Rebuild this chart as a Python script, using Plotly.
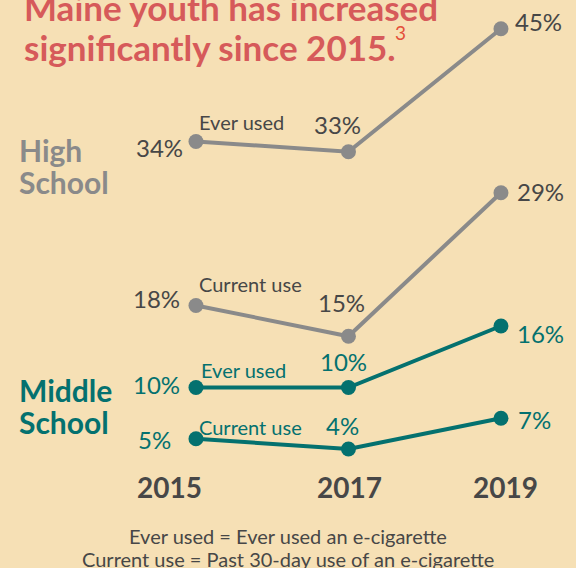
import plotly.graph_objects as go

years = [2015, 2017, 2019]
hs_ever = [34, 33, 45]
hs_current = [18, 15, 29]
ms_ever = [10, 10, 16]
ms_current = [5, 4, 7]
year_labels = ["2015", "2017", "2019"]

BG = "#F6E0B5"
GRAY = "#8A8A8A"
TEAL = "#04716F"
DARK = "#474747"
RED = "#D65A5A"
FONT = "Lato"
W, H = 576, 568

fig = go.Figure()

series = [
    (hs_ever, GRAY, DARK),
    (hs_current, GRAY, DARK),
    (ms_ever, TEAL, TEAL),
    (ms_current, TEAL, TEAL),
]
for vals, col, _ in series:
    fig.add_trace(go.Scatter(
        x=years, y=vals, mode="lines+markers",
        line=dict(color=col, width=4),
        marker=dict(color=col, size=15),
        hoverinfo="skip", showlegend=False,
    ))

# label placement: (xanchor, xshift, yshift) per point
label_pos = [
    [("right", -11, -6), ("center", -11, 27), ("left", 12, 7)],
    [("right", -14, 7), ("center", -7, 34), ("left", 14, 1)],
    [("right", -14, 3), ("center", -5, 26), ("left", 14, -8)],
    [("right", -23, -1), ("center", -6, 23), ("left", 15, -1)],
]
series_names = ["Ever used", "Current use", "Ever used", "Current use"]
name_shift = [(1, 19), (1, 21), (3, 17), (1, 12)]

for (vals, col, tcol), pos, nm, ns in zip(series, label_pos, series_names, name_shift):
    for yr, v, (xa, xs, ys) in zip(years, vals, pos):
        fig.add_annotation(x=yr, y=v, xref="x", yref="y", text=f"{v}%",
                           showarrow=False, xanchor=xa, yanchor="middle",
                           xshift=xs, yshift=ys,
                           font=dict(family=FONT, size=24, color=tcol))
    fig.add_annotation(x=years[0], y=vals[0], xref="x", yref="y", text=nm,
                       showarrow=False, xanchor="left", yanchor="middle",
                       xshift=ns[0], yshift=ns[1],
                       font=dict(family=FONT, size=20, color=tcol))

def px(x, y):
    return x / W, 1 - y / H

def add_text(text, x, y, size, color, xanchor="left", bold=False):
    xp, yp = px(x, y)
    fig.add_annotation(x=xp, y=yp, xref="paper", yref="paper",
                       text=f"<b>{text}</b>" if bold else text,
                       showarrow=False, xanchor=xanchor, yanchor="middle",
                       font=dict(family=FONT, size=size, color=color))

add_text("Maine youth has increased", 22, 7, 35, RED, bold=True)
add_text("significantly since 2015.", 22, 47, 35, RED, bold=True)
add_text("3", 393, 33, 19, "#E4503A")

add_text("High", 17, 150, 30, GRAY, bold=True)
add_text("School", 17, 182, 30, GRAY, bold=True)
add_text("Middle", 17, 390, 30, TEAL, bold=True)
add_text("School", 17, 422, 30, TEAL, bold=True)

for lbl, xc in zip(year_labels, [169, 349, 505]):
    add_text(lbl, xc, 487, 28, DARK, xanchor="center", bold=True)

add_text("Ever used = Ever used an e-cigarette", 288, 536, 20, DARK, xanchor="center")
add_text("Current use = Past 30-day use of an e-cigarette", 288, 559, 20, DARK, xanchor="center")

fig.update_layout(
    width=W, height=H,
    margin=dict(l=0, r=0, t=0, b=0),
    paper_bgcolor=BG, plot_bgcolor=BG,
    xaxis=dict(range=[2012.430, 2019.984], visible=False, fixedrange=True),
    yaxis=dict(range=[-7.61, 47.80], visible=False, fixedrange=True),
)

fig.write_html("out.html", config={"displayModeBar": False},
               post_script="document.body.style.margin='0px';document.body.style.background='" + BG + "';")
